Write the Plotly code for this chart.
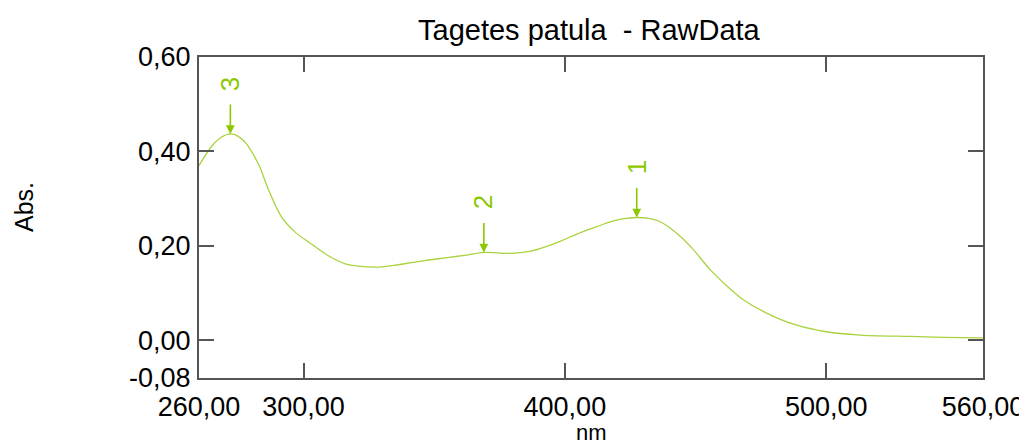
import plotly.graph_objects as go

# Spectrum data (wavelength nm, absorbance)
wavelength_nm = [260, 265, 268.5, 272, 275, 278, 283, 286.5, 291.5, 297, 303, 309.5, 316, 321,
                 329, 335, 342, 348, 355, 363, 369, 374, 378, 387, 397, 406, 412, 417, 422, 427.5,
                 432, 436.5, 444, 449, 455.5, 462, 468, 477, 487.5, 500, 513, 532, 545, 560]
absorbance = [0.370, 0.412, 0.430, 0.437, 0.432, 0.417, 0.370, 0.320, 0.262, 0.228, 0.204, 0.179,
              0.162, 0.157, 0.155, 0.159, 0.165, 0.170, 0.175, 0.181, 0.186, 0.185, 0.184, 0.189,
              0.207, 0.228, 0.240, 0.250, 0.257, 0.260, 0.258, 0.251, 0.221, 0.193, 0.150, 0.115,
              0.087, 0.058, 0.034, 0.018, 0.011, 0.008, 0.006, 0.005]

# Peak picks
peak_labels = ["1", "2", "3"]
peak_nm = [427.5, 369, 272]
peak_abs = [0.260, 0.186, 0.437]

# Axis ticks
x_tickvals = [260, 300, 400, 500, 560]
x_ticktext = ["260,00", "300,00", "400,00", "500,00", "560,00"]
y_tickvals = [-0.08, 0.0, 0.2, 0.4, 0.6]
y_ticktext = ["-0,08", "0,00", "0,20", "0,40", "0,60"]

LINE_COLOR = "#a9d33e"
MARK_COLOR = "#8cc800"
AXIS_COLOR = "#555555"
FONT = "Liberation Sans, Arial, sans-serif"

# page body margin offset (figure is drawn at 8,8 in the window)
OFF = 8
W, H = 1027 - OFF, 446 - OFF
ML, MT = 199 - OFF, 57 - OFF
MR = W - (983 - OFF)
MB = H - (378 - OFF)
plot_w = W - ML - MR
plot_h = H - MT - MB


def px_x(x):
    return (x - OFF - ML) / plot_w


def px_y(y):
    return (H - MB - (y - OFF)) / plot_h


fig = go.Figure()
fig.add_trace(go.Scatter(
    x=wavelength_nm, y=absorbance, mode="lines",
    line=dict(color=LINE_COLOR, width=1.3, shape="spline", smoothing=0.8),
    hoverinfo="skip", showlegend=False,
))

annotations = []
for lab, px, py in zip(peak_labels, peak_nm, peak_abs):
    annotations.append(dict(
        x=px, y=py, xref="x", yref="y", text="", showarrow=True,
        ax=0, ay=-31, arrowcolor=MARK_COLOR, arrowhead=2, arrowsize=1.1, arrowwidth=1.6,
    ))
    annotations.append(dict(
        x=px, y=py, xref="x", yref="y", text=lab, showarrow=False,
        yshift=50, textangle=-90, font=dict(family=FONT, size=26, color=MARK_COLOR),
        xanchor="center", yanchor="middle",
    ))

annotations.append(dict(
    x=px_x(24), y=px_y(207), xref="paper", yref="paper", text="Abs.", showarrow=False,
    textangle=-90, font=dict(family=FONT, size=25, color="#000000"),
    xanchor="center", yanchor="middle",
))
annotations.append(dict(
    x=px_x(591), y=px_y(446), xref="paper", yref="paper", text="nm", showarrow=False,
    font=dict(family=FONT, size=22, color="#000000"), xanchor="center", yanchor="bottom",
    borderpad=0,
))
annotations.append(dict(
    x=px_x(589), y=px_y(30), xref="paper", yref="paper", text="Tagetes patula  - RawData",
    showarrow=False, font=dict(family=FONT, size=29, color="#000000"),
    xanchor="center", yanchor="middle",
))

fig.update_layout(
    width=W, height=H,
    margin=dict(l=ML, r=MR, t=MT, b=MB, autoexpand=False),
    paper_bgcolor="white", plot_bgcolor="white",
    font=dict(family=FONT, color="#000000"),
    xaxis=dict(range=[260, 560], tickvals=x_tickvals, ticktext=x_ticktext,
               ticks="inside", ticklen=15, tickwidth=2, tickcolor=AXIS_COLOR,
               showline=True, linecolor=AXIS_COLOR, linewidth=2, mirror="allticks",
               showgrid=False, zeroline=False, tickfont=dict(size=27),
               ticklabelstandoff=4, automargin=False),
    yaxis=dict(range=[-0.08, 0.6], tickvals=y_tickvals, ticktext=y_ticktext,
               ticks="inside", ticklen=15, tickwidth=2, tickcolor=AXIS_COLOR,
               showline=True, linecolor=AXIS_COLOR, linewidth=2, mirror="allticks",
               showgrid=False, zeroline=False, tickfont=dict(size=27),
               ticklabelstandoff=1, automargin=False),
    annotations=annotations,
)

fig.write_html("out.html")
